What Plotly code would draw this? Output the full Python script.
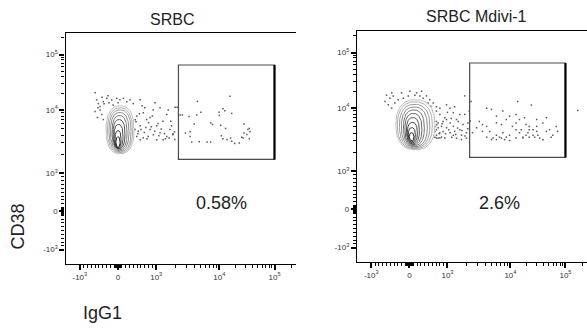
import numpy as np
import plotly.graph_objects as go

# ---------------- axis ticks (raw fluorescence units) ----------------
major_vals = [-1000, 0, 1000, 10000, 100000]
major_text = ["-10<sup>3</sup>", "0", "10<sup>3</sup>", "10<sup>4</sup>", "10<sup>5</sup>"]
minor_vals = ([-900, -800, -700, -600, -500, -400, -300, -200, -100,
               -80, -60, -40, -20, 20, 40, 60, 80,
               100, 200, 300, 400, 500, 600, 700, 800, 900,
               2000, 3000, 4000, 5000, 6000, 7000, 8000, 9000,
               20000, 30000, 40000, 50000, 60000, 70000, 80000, 90000, 200000])
axis_min, axis_max = -1375, 246000

panel_titles = ["SRBC", "SRBC Mdivi-1"]
gate_pct = ["0.58%", "2.6%"]
gate_igg1 = [2250, 100000]
gate_cd38 = [1650, 65000]

# ---------------- outlier dots (IgG1, CD38) ----------------
srbc_igg1 = [4500, 15600, 11600, 12600, 16800, 9900, 10000, 5100, 4400, 3300, 2600, 2400, 7300, 7800, 4000,
             10600, 28000, 33000, 35000, 31500, 36000, 27000, 25500, 16000, 16800, 19000, 23000, 11600, 13800,
             10900, 13000, 3450, 2900, 3450, 3650, 4800, 6400, 7300, 28000, 35000,
             2150, 1700, 1850, 1950, 1970,
             490, 580, 660, 750, 840, 920, 1020, 1150, 1280, 1470, 1470, 1650, 1830, 2000, 490, 580, 400, 660,
             790, 925, 1020, 1290, 445, 530, 730, 1070, 840, 630, 1150, 1550, 970,
             470, 520, 600, 690, 760, 870, 960, 1100, 1200, 1350, 1400, 1600, 1750, 450, 560, 700, 800, 900,
             -560, -470, -515, -385, -295, -165, -35, 50, 140, 230, 315, -470, -425, -385, 400, 580, -600,
             -525, -365, -235, -130, 0, -260, -420, -600, -540]
srbc_cd38 = [14300, 17600, 10500, 9700, 8800, 9200, 8200, 9200, 8300, 7900, 8300, 8300, 6250, 5900, 6000,
             5700, 6000, 4900, 5100, 4100, 4500, 3600, 3700, 3600, 3200, 2950, 3000, 3500, 3400,
             3900, 5100, 4500, 4300, 3800, 3100, 3150, 3100, 3100, 4300, 3500,
             11200, 6600, 4200, 4500, 3400,
             8000, 5600, 9000, 7050, 4880, 10000, 5600, 4370, 6600, 8500, 3800, 4880, 4050, 11200, 3800, 3380,
             4300, 3640, 3800, 4050, 3380, 3380, 4880, 4600, 5250, 6080, 7600, 11900, 10900, 10000, 13500,
             6500, 4200, 4900, 4400, 3500, 5400, 4600, 3900, 5000, 4200, 3500, 3600, 5600, 7000, 8700, 11000,
             6300, 8000,
             15200, 11500, 13000, 14100, 16200, 15200, 16200, 15200, 16200, 14100, 15200, 10000, 8500, 7050,
             13000, 15200, 20500, 10900, 12900, 13500, 12300, 13500, 18000, 17000, 9460, 7600]

mdivi_igg1 = [24000, 13600, 4200, 5000, 6000, 7600, 8600, 9700, 12700, 14600, 18000, 19200, 21900, 25800,
              30000, 39000, 51400, 59000, 31500, 27500, 21900, 19200, 16800, 14600, 12700, 10900, 9700, 8600,
              7600, 6700, 6000, 5300, 4700, 4200, 3600, 3200, 2900, 2500, 4200, 5000, 6000, 7200, 8100, 9700,
              12700, 16800, 20800, 25800, 34000, 39000, 45000, 30000, 21900, 15700, 6000, 7200, 12700, 3600,
              30000, 45000, 68000, 71500, 55000, 167000,
              710, 755, 800, 845, 885, 930, 975, 1100, 1170, 1240, 1300, 1390, 1480, 1570, 1670, 1770, 1880,
              1880, 2000, 2120, 1570, 1240, 1100, 975, 885, 800, 755, 845, 930, 1100, 1390, 1240, 1670, 2000,
              710, 800, 975, 710, 2220, 2370,
              670, 670, 710, 755, 670, 710, 800, 625, 625, 640,
              600, 650, 720, 780, 860, 950, 1050, 1150, 1350, 1450, 1700, 1900, 2100, 2300, 1000, 1300, 600, 560,
              -600, -510, -425, -295, -160, -30, 145, 190, 275, 360, 450, 535, -555, -465, -640, -380, 625, 490,
              710, -465, -205, 15, 320]
mdivi_cd38 = [11300, 13100, 9900, 9460, 7400, 8900, 6550, 7400, 7900, 6550, 7000, 5450, 5100, 4530,
              5100, 5800, 4530, 3700, 3700, 3450, 3450, 3700, 3330, 4050, 4530, 5100, 3700, 3450,
              4050, 3450, 3700, 3330, 4250, 5100, 5450, 6100, 4850, 4050, 3450, 3150, 3150, 3330, 3150, 3050,
              3330, 3450, 4050, 3700, 3330, 3150, 4250, 4250, 4530, 4530, 5800, 5450, 5800, 4250,
              6550, 7000, 5100, 4250, 3450, 9100,
              3700, 3330, 4050, 3450, 4250, 3330, 4850, 4050, 3450, 5100, 4250, 3330, 6100, 4530, 3700, 5450, 7900,
              16500, 4050, 5800, 7900, 8400, 9900, 6550, 6100, 7900, 5800, 5100, 7000, 5800, 6550, 3700, 3150, 3330,
              8900, 9900, 11400, 6100, 8900, 13100,
              5100, 4250, 4530, 4850, 3450, 3330, 3330, 3700, 5800, 7000,
              4000, 6300, 5400, 3900, 5600, 3900, 4500, 6800, 3800, 4800, 4400, 3600, 4700, 6200, 8500, 10500, 9000, 10700,
              17000, 15000, 16500, 14100, 15000, 16500, 17000, 18700, 16500, 15000, 16500, 14100, 11400, 9900,
              13100, 12300, 12300, 12300, 10500, 18700, 18700, 20000, 20000]

# ---------------- contour rings of the main population (bounds) ----------------
srbc_ring_igg1_lo = [-314, -275, -236, -197, -157, -131, -105, -79, -52]
srbc_ring_igg1_hi = [420, 380, 341, 288, 236, 183, 131, 79, 52]
srbc_ring_cd38_lo = [2020, 2100, 2180, 2260, 2340, 2430, 2470, 2520, 2560]
srbc_ring_cd38_hi = [11900, 10900, 10000, 9100, 8170, 7050, 5900, 4700, 3760]

mdivi_ring_igg1_lo = [-354, -314, -262, -210, -157, -118, -79, -52, -26, 0]
mdivi_ring_igg1_hi = [668, 603, 537, 472, 393, 328, 262, 210, 157, 118]
mdivi_ring_cd38_lo = [2180, 2260, 2340, 2430, 2520, 2620, 2710, 2810, 2910, 3030]
mdivi_ring_cd38_hi = [14100, 12900, 11600, 10400, 9300, 8170, 7050, 5900, 4880, 4050]

ring_gray = ["#b8b8b8", "#a4a4a4", "#909090", "#7c7c7c", "#686868", "#545454", "#424242", "#323232",
             "#222222", "#141414"]


# ---------------- biexponential-like display scale ----------------
def biex(v):
    v = np.asarray(v, dtype=float)
    lin = 52.5 + v * 0.0382
    lg = np.interp(np.log10(np.maximum(v, 1000.0)), [3, 4, 5, 6], [90.7, 153.8, 209.0, 264.2])
    return np.where(v <= 1000, lin, lg)


def ring_path(xlo, xhi, ylo, yhi, n=2.4):
    x0, x1 = biex(xlo), biex(xhi)
    y0, y1 = biex(ylo), biex(yhi)
    cx, cy, rx, ry = (x0 + x1) / 2, (y0 + y1) / 2, (x1 - x0) / 2, (y1 - y0) / 2
    t = np.linspace(0, 2 * np.pi, 90)
    c, s = np.cos(t), np.sin(t)
    xs = cx + rx * np.sign(c) * np.abs(c) ** (2 / n)
    ys = cy + ry * np.sign(s) * np.abs(s) ** (2 / n)
    return xs, ys


fig = go.Figure()
FONT = "Liberation Sans, Arial, sans-serif"

panels = [
    ("x", "y", srbc_igg1, srbc_cd38, srbc_ring_igg1_lo, srbc_ring_igg1_hi, srbc_ring_cd38_lo, srbc_ring_cd38_hi),
    ("x2", "y2", mdivi_igg1, mdivi_cd38, mdivi_ring_igg1_lo, mdivi_ring_igg1_hi, mdivi_ring_cd38_lo,
     mdivi_ring_cd38_hi),
]

for xa, ya, dx, dy, rxl, rxh, ryl, ryh in panels:
    fig.add_trace(go.Scatter(x=biex(dx), y=biex(dy), mode="markers", xaxis=xa, yaxis=ya,
                             marker=dict(color="#222", size=1.5, symbol="square", line=dict(width=0)),
                             opacity=0.75, hoverinfo="skip"))
    nr = len(rxl)
    for i in range(nr):
        xs, ys = ring_path(rxl[i], rxh[i], ryl[i], ryh[i])
        col = ring_gray[int(round(i * (len(ring_gray) - 1) / max(nr - 1, 1)))]
        fig.add_trace(go.Scatter(x=xs, y=ys, mode="lines", xaxis=xa, yaxis=ya,
                                 fill="toself" if i == 0 else None, fillcolor="white",
                                 line=dict(color=col, width=0.9), hoverinfo="skip"))

# gates
for xa, ya in [("x", "y"), ("x2", "y2")]:
    gx0, gx1 = float(biex(gate_igg1[0])), float(biex(gate_igg1[1]))
    gy0, gy1 = float(biex(gate_cd38[0])), float(biex(gate_cd38[1]))
    fig.add_shape(type="rect", xref=xa, yref=ya, x0=gx0, x1=gx1, y0=gy0, y1=gy1,
                  line=dict(color="#4a4a4a", width=1.2))
    fig.add_shape(type="line", xref=xa, yref=ya, x0=gx1, x1=gx1, y0=gy0, y1=gy1,
                  line=dict(color="black", width=2.2))

tv = biex(major_vals).tolist()
mv = biex(minor_vals).tolist()
rng = [float(biex(axis_min)), 230.6]


def axis(domain, anchor, mirror):
    return dict(domain=domain, anchor=anchor, range=rng, showgrid=False, zeroline=False,
                automargin=False,
                showline=True, linecolor="black", linewidth=1.3, mirror=mirror,
                ticks="outside", ticklen=5, tickwidth=1.6, tickcolor="black",
                tickmode="array", tickvals=tv, ticktext=major_text,
                tickfont=dict(family=FONT, size=8, color="#333"),
                minor=dict(tickmode="array", tickvals=mv, ticks="outside", ticklen=3, tickwidth=1,
                           tickcolor="black", showgrid=False),
                fixedrange=True)


W, H = 587, 332
fig.update_layout(
    width=W, height=H, margin=dict(l=0, r=0, t=0, b=0),
    paper_bgcolor="white", plot_bgcolor="white", showlegend=False,
    xaxis=axis([65.5 / W, 296.1 / W], "y", True),
    yaxis=axis([1 - 264 / H, 1 - 33 / H], "x", False),
    xaxis2=axis([357 / W, 1.0], "y2", True),
    yaxis2=axis([1 - 262 / H, 1 - 31 / H], "x2", False),
)

ann = [
    dict(text=panel_titles[0], x=172 / W, y=1 - 19 / H, size=16),
    dict(text=panel_titles[1], x=476.7 / W, y=1 - 16 / H, size=16),
    dict(text=gate_pct[0], x=221.5 / W, y=1 - 203 / H, size=18),
    dict(text=gate_pct[1], x=499 / W, y=1 - 203 / H, size=18),
    dict(text="IgG1", x=102.5 / W, y=1 - 313 / H, size=18),
]
for a in ann:
    fig.add_annotation(text=a["text"], x=a["x"], y=a["y"], xref="paper", yref="paper",
                       showarrow=False, xanchor="center", yanchor="middle",
                       font=dict(family=FONT, size=a["size"], color="#222"))
fig.add_annotation(text="CD38", x=17.5 / W, y=1 - 227 / H, xref="paper", yref="paper", showarrow=False,
                   textangle=-90, xanchor="center", yanchor="middle",
                   font=dict(family=FONT, size=18, color="#222"))

fig.write_html("out.html", config={"displayModeBar": False},
               post_script="document.body.style.margin='0px';")
